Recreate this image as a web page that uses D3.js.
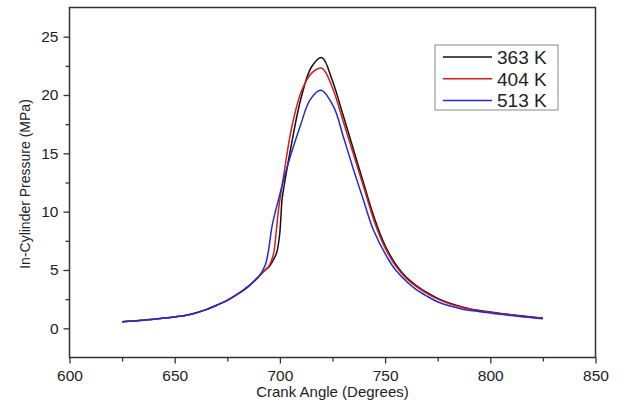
<!DOCTYPE html>
<html><head><meta charset="utf-8">
<script src="https://cdn.jsdelivr.net/npm/d3@7"></script>
<style>body{margin:0;background:#fff}text{font-family:"Liberation Sans",Arial,sans-serif;fill:#222}</style>
</head><body><svg id="c" width="625" height="409"></svg>
<script>
// ---- data ----
const angle363 = [625,635,645,650,655,660,665,670,675,680,685,690,693,695,697,698.5,699.8,700.4,701,702,705,710,715,720,725,730,735,740,745,750,755,760,765,770,775,780,785,790,795,800,805,810,815,820,825];
const p363     = [0.57,0.70,0.88,0.98,1.1,1.32,1.6,1.98,2.4,2.95,3.6,4.45,5.0,5.3,5.9,6.5,7.9,9.3,11.0,12.2,15.3,19.7,22.4,23.2,21.2,18.3,15.3,12.3,9.4,7.1,5.5,4.4,3.65,3.05,2.57,2.2,1.92,1.69,1.52,1.4,1.28,1.17,1.07,0.97,0.88];
const angle404 = [625,635,645,650,655,660,665,670,675,680,685,690,693,695,697,698.2,699.3,701.7,705.7,710.4,715.2,720,725,730,735,740,745,750,755,760,765,770,775,780,785,790,795,800,805,810,815,820,825];
const p404     = [0.57,0.70,0.88,0.98,1.1,1.32,1.6,1.98,2.4,2.95,3.6,4.45,5.0,5.4,6.4,8.2,10.1,13.0,17.3,20.4,21.9,22.3,20.6,17.8,14.9,12.0,9.1,6.9,5.35,4.3,3.55,2.97,2.5,2.14,1.87,1.65,1.49,1.37,1.25,1.14,1.04,0.95,0.86];
const angle513 = [625,635,645,650,655,660,665,670,675,680,685,690,693,694.6,696.2,697.7,699.3,701.7,704.9,709.6,714.4,719.5,725.5,730.2,735,739.7,744.5,751.6,755,761.1,765,770,774.6,780,785,788.9,795,800,804.7,810,815,820,825];
const p513     = [0.57,0.70,0.88,0.98,1.1,1.32,1.6,1.98,2.4,2.95,3.6,4.45,5.4,6.7,8.7,9.9,11.0,12.7,14.7,17.3,19.6,20.4,19.0,16.4,13.6,11.0,8.4,5.9,5.0,3.86,3.3,2.75,2.3,1.95,1.72,1.57,1.43,1.31,1.2,1.1,1.0,0.91,0.82];
const seriesNames = ["363 K","404 K","513 K"];
const seriesColors = ["#111111","#d81c1c","#1f2bd6"];
const xTicks = [600,650,700,750,800,850];
const yTicks = [0,5,10,15,20,25];

const series = [
  {name:seriesNames[0], color:seriesColors[0], pts:angle363.map((a,i)=>[a,p363[i]])},
  {name:seriesNames[1], color:seriesColors[1], pts:angle404.map((a,i)=>[a,p404[i]])},
  {name:seriesNames[2], color:seriesColors[2], pts:angle513.map((a,i)=>[a,p513[i]])}
];

const svg = d3.select("#c");
const L=69.5, R=595.5, T=7.5, B=357.5;
const x = d3.scaleLinear().domain([600,850]).range([L,R]);
const y = d3.scaleLinear().domain([-2.5,27.5]).range([B,T]);

// frame
svg.append("rect").attr("x",L).attr("y",T).attr("width",R-L).attr("height",B-T)
  .attr("fill","none").attr("stroke","#333").attr("stroke-width",1.5);

// minor ticks
const xMinor = d3.range(625,850,50);
const yMinor = d3.range(-2.5,27.5,5).filter(v=>v>-2.5);
svg.append("g").attr("transform",`translate(0,${B})`)
  .call(d3.axisBottom(x).tickValues(xMinor).tickSize(4).tickFormat(""))
  .call(g=>{g.select(".domain").remove();g.selectAll("line").attr("stroke","#333").attr("stroke-width",1.3);});
svg.append("g").attr("transform",`translate(${L},0)`)
  .call(d3.axisLeft(y).tickValues(yMinor).tickSize(4).tickFormat(""))
  .call(g=>{g.select(".domain").remove();g.selectAll("line").attr("stroke","#333").attr("stroke-width",1.3);});

// major axes
const xa = svg.append("g").attr("transform",`translate(0,${B})`)
  .call(d3.axisBottom(x).tickValues(xTicks).tickSize(6).tickPadding(6));
const ya = svg.append("g").attr("transform",`translate(${L},0)`)
  .call(d3.axisLeft(y).tickValues(yTicks).tickSize(6).tickPadding(5));
[xa,ya].forEach(g=>{
  g.select(".domain").remove();
  g.selectAll("line").attr("stroke","#333").attr("stroke-width",1.3);
  g.selectAll("text").attr("font-size","15.5px").attr("fill","#222")
   .style("font-family","'Liberation Sans',Arial,sans-serif");
});

// lines
const line = d3.line().x(d=>x(d[0])).y(d=>y(d[1])).curve(d3.curveCatmullRom.alpha(0.5));
series.forEach(s=>{
  svg.append("path").datum(s.pts).attr("d",line).attr("fill","none")
    .attr("stroke",s.color).attr("stroke-width",1.5);
});

// axis titles
svg.append("text").attr("x",(L+R)/2).attr("y",397).attr("text-anchor","middle")
  .attr("font-size","15px").text("Crank Angle (Degrees)");
svg.append("text").attr("transform",`translate(30,184) rotate(-90)`).attr("text-anchor","middle")
  .attr("font-size","14px").text("In-Cylinder Pressure (MPa)");

// legend
const lg = svg.append("g");
lg.append("rect").attr("x",435).attr("y",45).attr("width",123).attr("height",65)
  .attr("fill","#fff").attr("stroke","#888").attr("stroke-width",1);
series.forEach((s,i)=>{
  const yy = 57 + i*21.7;
  lg.append("line").attr("x1",443).attr("x2",492).attr("y1",yy).attr("y2",yy)
    .attr("stroke",s.color).attr("stroke-width",1.5);
  lg.append("text").attr("x",497).attr("y",yy+7).attr("font-size","19px").text(s.name);
});
</script></body></html>
